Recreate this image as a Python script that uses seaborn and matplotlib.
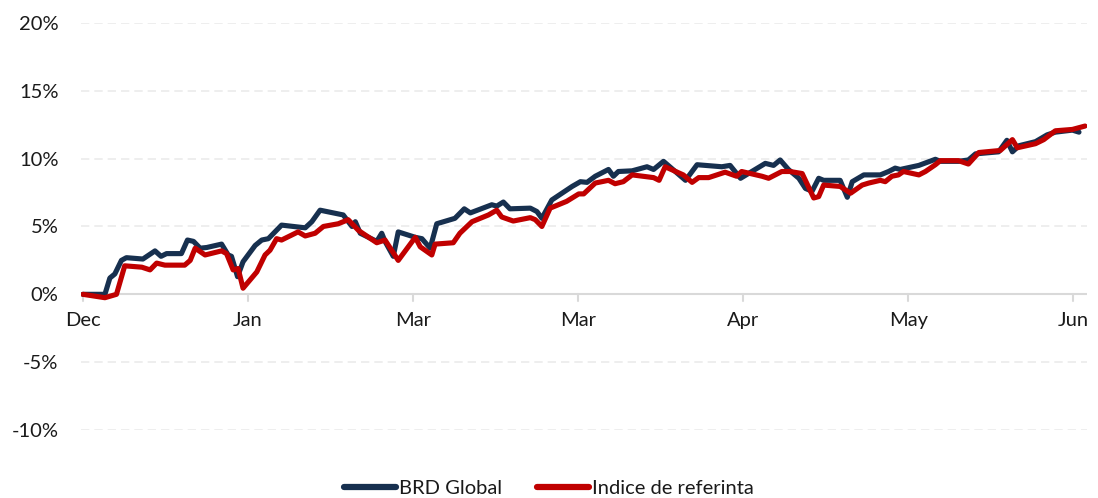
import matplotlib
matplotlib.use("Agg")
import matplotlib.pyplot as plt
import seaborn as sns
import pandas as pd
from matplotlib.ticker import FuncFormatter

# days since 31 Dec, cumulative return in %
brd_days = [0, 4.0, 4.9, 5.8, 7.0, 7.9, 10.9, 13.1, 14.2, 15.2, 17.9, 19.0, 20.1, 21.3, 22.5,
            25.2, 26.4, 27.0, 28.1, 29.1, 31.3, 32.5, 33.7, 36.1, 40.4, 41.6, 43.1, 47.3, 48.9,
            49.5, 50.4, 53.4, 54.3, 54.9, 56.4, 57.3, 60.4, 61.6, 63.1, 64.3, 67.6, 69.3, 70.4,
            74.3, 75.2, 76.4, 77.6, 81.3, 82.5, 83.4, 85.2, 88.9, 90.4, 91.6, 93.1, 95.5, 96.4,
            97.3, 99.8, 102.5, 103.7, 105.5, 109.5, 111.6, 116.1, 117.6, 119.5, 124.0, 125.5,
            126.7, 128.2, 130.1, 131.3, 132.5, 133.7, 134.6, 137.6, 138.9, 139.8, 141.9, 144.9,
            146.4, 147.6, 148.5, 151.9, 154.9, 155.8, 159.1, 160.9, 162.2, 166.4, 167.9, 168.9,
            170.1, 173.1, 175.2, 176.7, 179.8, 181.0]
brd_vals = [0.0, 0.0, 1.2, 1.5, 2.5, 2.7, 2.6, 3.2, 2.8, 3.0, 3.0, 4.0, 3.9, 3.4, 3.45,
            3.7, 2.9, 2.8, 1.3, 2.4, 3.6, 4.0, 4.1, 5.1, 4.9, 5.35, 6.2, 5.85, 5.0,
            5.35, 4.5, 3.9, 4.5, 3.9, 2.8, 4.6, 4.2, 4.1, 3.4, 5.2, 5.6, 6.3, 6.0,
            6.6, 6.5, 6.8, 6.3, 6.35, 6.1, 5.6, 6.95, 7.95, 8.3, 8.25, 8.7, 9.2, 8.7,
            9.05, 9.1, 9.4, 9.2, 9.8, 8.4, 9.55, 9.4, 9.5, 8.55, 9.65, 9.5,
            9.9, 9.2, 8.55, 7.8, 7.6, 8.55, 8.4, 8.4, 7.15, 8.3, 8.8, 8.8,
            9.05, 9.3, 9.2, 9.5, 9.95, 9.8, 9.8, 9.9, 10.35, 10.5, 11.35, 10.5,
            10.95, 11.25, 11.75, 11.95, 12.1, 11.95]

ref_days = [0, 4.0, 6.1, 7.6, 10.7, 12.2, 13.4, 14.9, 18.5, 19.5, 20.4, 22.2, 25.2, 26.1,
            27.3, 28.2, 29.1, 31.6, 33.1, 34.0, 35.2, 36.1, 39.1, 40.4, 42.2, 43.7, 46.4,
            48.2, 50.1, 53.4, 54.9, 57.3, 60.4, 61.3, 63.4, 64.0, 67.3, 68.5, 70.7, 73.7,
            75.2, 76.1, 78.2, 81.3, 82.2, 83.4, 84.9, 87.9, 90.1, 91.0, 93.1, 95.5, 96.7,
            98.2, 99.8, 103.7, 104.7, 105.8, 109.1, 110.7, 111.9, 113.7, 116.7, 118.8, 119.7,
            123.4, 124.6, 127.0, 128.5, 130.7, 132.8, 133.7, 134.6, 137.6, 139.5, 141.6,
            142.8, 144.9, 145.8, 147.0, 148.2, 149.1, 151.9, 153.1, 154.9, 155.8, 159.1,
            160.9, 162.8, 166.7, 168.9, 169.8, 173.1, 174.6, 176.7, 179.8, 182.1]
ref_vals = [0.0, -0.25, 0.0, 2.1, 2.0, 1.8, 2.3, 2.15, 2.15, 2.5, 3.4, 2.9, 3.2, 3.0,
            1.8, 1.9, 0.45, 1.65, 2.9, 3.25, 4.1, 4.0, 4.6, 4.3, 4.5, 5.0, 5.2,
            5.5, 4.7, 3.8, 4.0, 2.5, 4.2, 3.5, 2.9, 3.7, 3.8, 4.5, 5.35, 5.85,
            6.2, 5.7, 5.4, 5.65, 5.5, 5.0, 6.35, 6.85, 7.4, 7.4, 8.2, 8.4, 8.15,
            8.3, 8.8, 8.6, 8.4, 9.4, 8.8, 8.25, 8.6, 8.6, 9.0, 8.7, 9.05,
            8.7, 8.55, 9.05, 9.05, 8.9, 7.1, 7.2, 8.05, 7.95, 7.45, 8.05,
            8.2, 8.4, 8.3, 8.7, 8.8, 9.05, 8.8, 9.05, 9.55, 9.85, 9.85,
            9.6, 10.45, 10.6, 11.4, 10.8, 11.1, 11.4, 12.05, 12.15, 12.4]

month_ticks = [0, 30, 60, 90, 120, 150, 180]
month_labels = ["Dec", "Jan", "Mar", "Mar", "Apr", "May", "Jun"]
series_names = ["BRD Global", "Indice de referinta"]
colors = ["#17304f", "#c00000"]

df = pd.concat([
    pd.DataFrame({"day": brd_days, "ret": brd_vals, "serie": series_names[0]}),
    pd.DataFrame({"day": ref_days, "ret": ref_vals, "serie": series_names[1]}),
])

sns.set_style("white")
plt.rcParams["font.family"] = ["Lato", "DejaVu Sans"]

fig = plt.figure(figsize=(10.98, 4.98), dpi=100)
ax = fig.add_axes([0.0735, 0.1365, 0.9162, 0.8175])

sns.lineplot(data=df, x="day", y="ret", hue="serie", palette=colors,
             hue_order=series_names, linewidth=3.7, sort=False, estimator=None,
             ax=ax, legend=False)

ax.set_xlim(-0.4, 182.4)
ax.set_ylim(-10, 20)
ax.set_yticks([-10, -5, 0, 5, 10, 15, 20])
ax.yaxis.set_major_formatter(FuncFormatter(lambda v, p: "{:.0f}%".format(v)))
ax.grid(axis="y", color="#ebebeb", linestyle=(0, (5, 3)), linewidth=1.2)
ax.set_axisbelow(True)
for s in ["left", "right", "top", "bottom"]:
    ax.spines[s].set_visible(False)
ax.axhline(0, color="#d9d9d9", linewidth=1.5, zorder=1)

ax.set_xticks(month_ticks)
ax.set_xticklabels([])
for d, lab in zip(month_ticks, month_labels):
    ax.plot([d, d], [0, -0.5], color="#d9d9d9", linewidth=1.5, zorder=1)
    ax.text(d, -1.9, lab, ha="center", va="center", fontsize=14.5, color="#1a1a1a")
ax.tick_params(axis="x", length=0)
ax.tick_params(axis="y", length=0, pad=16, labelsize=14.5, labelcolor="#1a1a1a")
ax.set_xlabel("")
ax.set_ylabel("")

handles = [plt.Line2D([], [], color=c, linewidth=4.5, solid_capstyle="round") for c in colors]
fig.legend(handles, series_names, loc="center", bbox_to_anchor=(0.5, 0.02), ncol=2,
           frameon=False, fontsize=14.5, handlelength=2.6, handletextpad=0.15,
           columnspacing=1.7, labelcolor="#1a1a1a")

plt.savefig("out.png", dpi=100)
